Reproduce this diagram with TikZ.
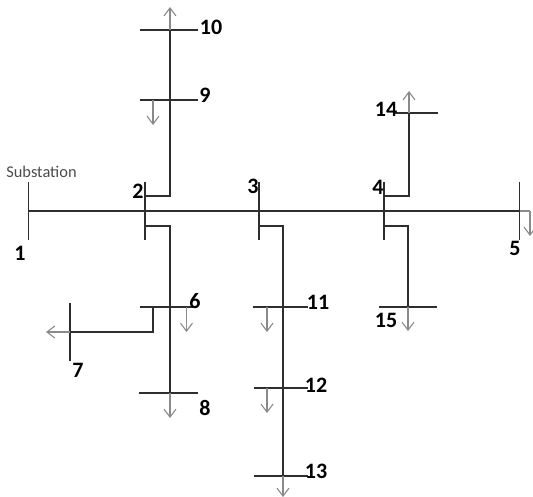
\documentclass[tikz,border=0pt]{standalone}
\usepackage{fontspec}
\setmainfont{Carlito}
\usetikzlibrary{arrows.meta}
\definecolor{linec}{HTML}{2E2E2E}
\definecolor{loadc}{HTML}{8A8A8A}
\tikzset{
  busbar/.style={draw=linec,line width=1.25pt},
  feeder/.style={draw=linec,line width=1.25pt},
  load/.style={draw=loadc,line width=1.25pt,-{Straight Barb[length=8pt,width=12pt,line width=1.1pt]}},
  num/.style={font=\fontsize{22}{22}\selectfont\bfseries,text=black,inner sep=0pt},
  captxt/.style={font=\fontsize{16.4}{16.4}\selectfont,text=black!70,inner sep=0pt}
}
\begin{document}
\begin{tikzpicture}[x=1pt,y=-1pt]
\useasboundingbox (0,0) rectangle (533,496);
% main bus
\coordinate (b1t) at (28.5,182); \coordinate (b1b) at (28.5,240); \coordinate (b1m) at (28.5,211);
\coordinate (b2t) at (145,182); \coordinate (b2b) at (145,240);
\coordinate (b2u) at (145,196); \coordinate (b2d) at (145,226);
\coordinate (b3t) at (259,182); \coordinate (b3b) at (259,240); \coordinate (b3d) at (259,226);
\coordinate (b4t) at (384,182); \coordinate (b4b) at (384,240);
\coordinate (b4u) at (384,196); \coordinate (b4d) at (384,226);
\coordinate (b5t) at (519.5,182); \coordinate (b5b) at (519.5,240); \coordinate (b5m) at (519.5,211);
\coordinate (l5c) at (530,211); \coordinate (l5e) at (530,236);
% upper feeder from 2
\coordinate (f2uc) at (170,196); \coordinate (n10) at (170,30); \coordinate (l10) at (170,7);
\coordinate (b10l) at (140,30); \coordinate (b10r) at (198,30);
\coordinate (b9l) at (140,100); \coordinate (b9r) at (198,100);
\coordinate (l9s) at (153,100); \coordinate (l9e) at (153,125);
% lower feeder from 2
\coordinate (f2dc) at (170,226); \coordinate (n8) at (170,393); \coordinate (l8) at (170,418);
\coordinate (b6l) at (140,307); \coordinate (b6r) at (197,307);
\coordinate (l6s) at (186.5,307); \coordinate (l6e) at (186.5,332);
\coordinate (br6s) at (153,307); \coordinate (br6c) at (153,332); \coordinate (n7) at (70,332); \coordinate (l7) at (46,332);
\coordinate (b7t) at (70,303); \coordinate (b7b) at (70,361);
\coordinate (b8l) at (139,393); \coordinate (b8r) at (198,393);
% feeder from 3
\coordinate (f3c) at (283,226); \coordinate (n13) at (283,476); \coordinate (l13) at (283,497);
\coordinate (b11l) at (253,307); \coordinate (b11r) at (308,307);
\coordinate (l11s) at (267,307); \coordinate (l11e) at (267,332);
\coordinate (b12l) at (254,388); \coordinate (b12r) at (308,388);
\coordinate (l12s) at (267,388); \coordinate (l12e) at (267,413);
\coordinate (b13l) at (254,476); \coordinate (b13r) at (308,476);
% feeders from 4
\coordinate (f4uc) at (409,196); \coordinate (n14) at (409,113); \coordinate (l14) at (409,91);
\coordinate (b14l) at (394,113); \coordinate (b14r) at (438,113);
\coordinate (f4dc) at (408,226); \coordinate (n15) at (408,307); \coordinate (l15) at (408,331);
\coordinate (b15l) at (379,307); \coordinate (b15r) at (437,307);
% bus bars
\foreach \a/\b in {b1t/b1b,b2t/b2b,b3t/b3b,b4t/b4b,b5t/b5b,b7t/b7b,b10l/b10r,b9l/b9r,b6l/b6r,b8l/b8r,b11l/b11r,b12l/b12r,b13l/b13r,b14l/b14r,b15l/b15r}
  \path[busbar] (\a) -- (\b);
% feeders
\path[feeder] (b1m) -- (b5m);
\path[feeder] (b2u) -- (f2uc) -- (n10);
\path[feeder] (b2d) -- (f2dc) -- (n8);
\path[feeder] (b3d) -- (f3c) -- (n13);
\path[feeder] (b4u) -- (f4uc) -- (n14);
\path[feeder] (b4d) -- (f4dc) -- (n15);
\path[feeder] (br6s) -- (br6c) -- (n7);
% loads
\draw[load] (n10) -- (l10);
\draw[load] (l9s) -- (l9e);
\draw[load] (n8) -- (l8);
\draw[load] (l6s) -- (l6e);
\draw[load] (n7) -- (l7);
\draw[load] (l11s) -- (l11e);
\draw[load] (l12s) -- (l12e);
\draw[load] (n13) -- (l13);
\draw[load] (n14) -- (l14);
\draw[load] (n15) -- (l15);
\draw[draw=loadc,line width=1.25pt] (b5m) -- (l5c);
\draw[load] (l5c) -- (l5e);
% labels
\node[captxt] (tsub) at (41.5,172) {Substation};
\node[num] (t1) at (20,253) {1};
\node[num] (t2) at (138,191) {2};
\node[num] (t3) at (253,186) {3};
\node[num] (t4) at (378,187) {4};
\node[num] (t5) at (515,248) {5};
\node[num] (t6) at (195,301) {6};
\node[num] (t7) at (78,370) {7};
\node[num] (t8) at (205,408) {8};
\node[num] (t9) at (205,95) {9};
\node[num] (t10) at (211,27) {10};
\node[num] (t11) at (318,302) {11};
\node[num] (t12) at (316,385) {12};
\node[num] (t13) at (316,471) {13};
\node[num] (t14) at (386,109) {14};
\node[num] (t15) at (386,320) {15};
\end{tikzpicture}
\end{document}
